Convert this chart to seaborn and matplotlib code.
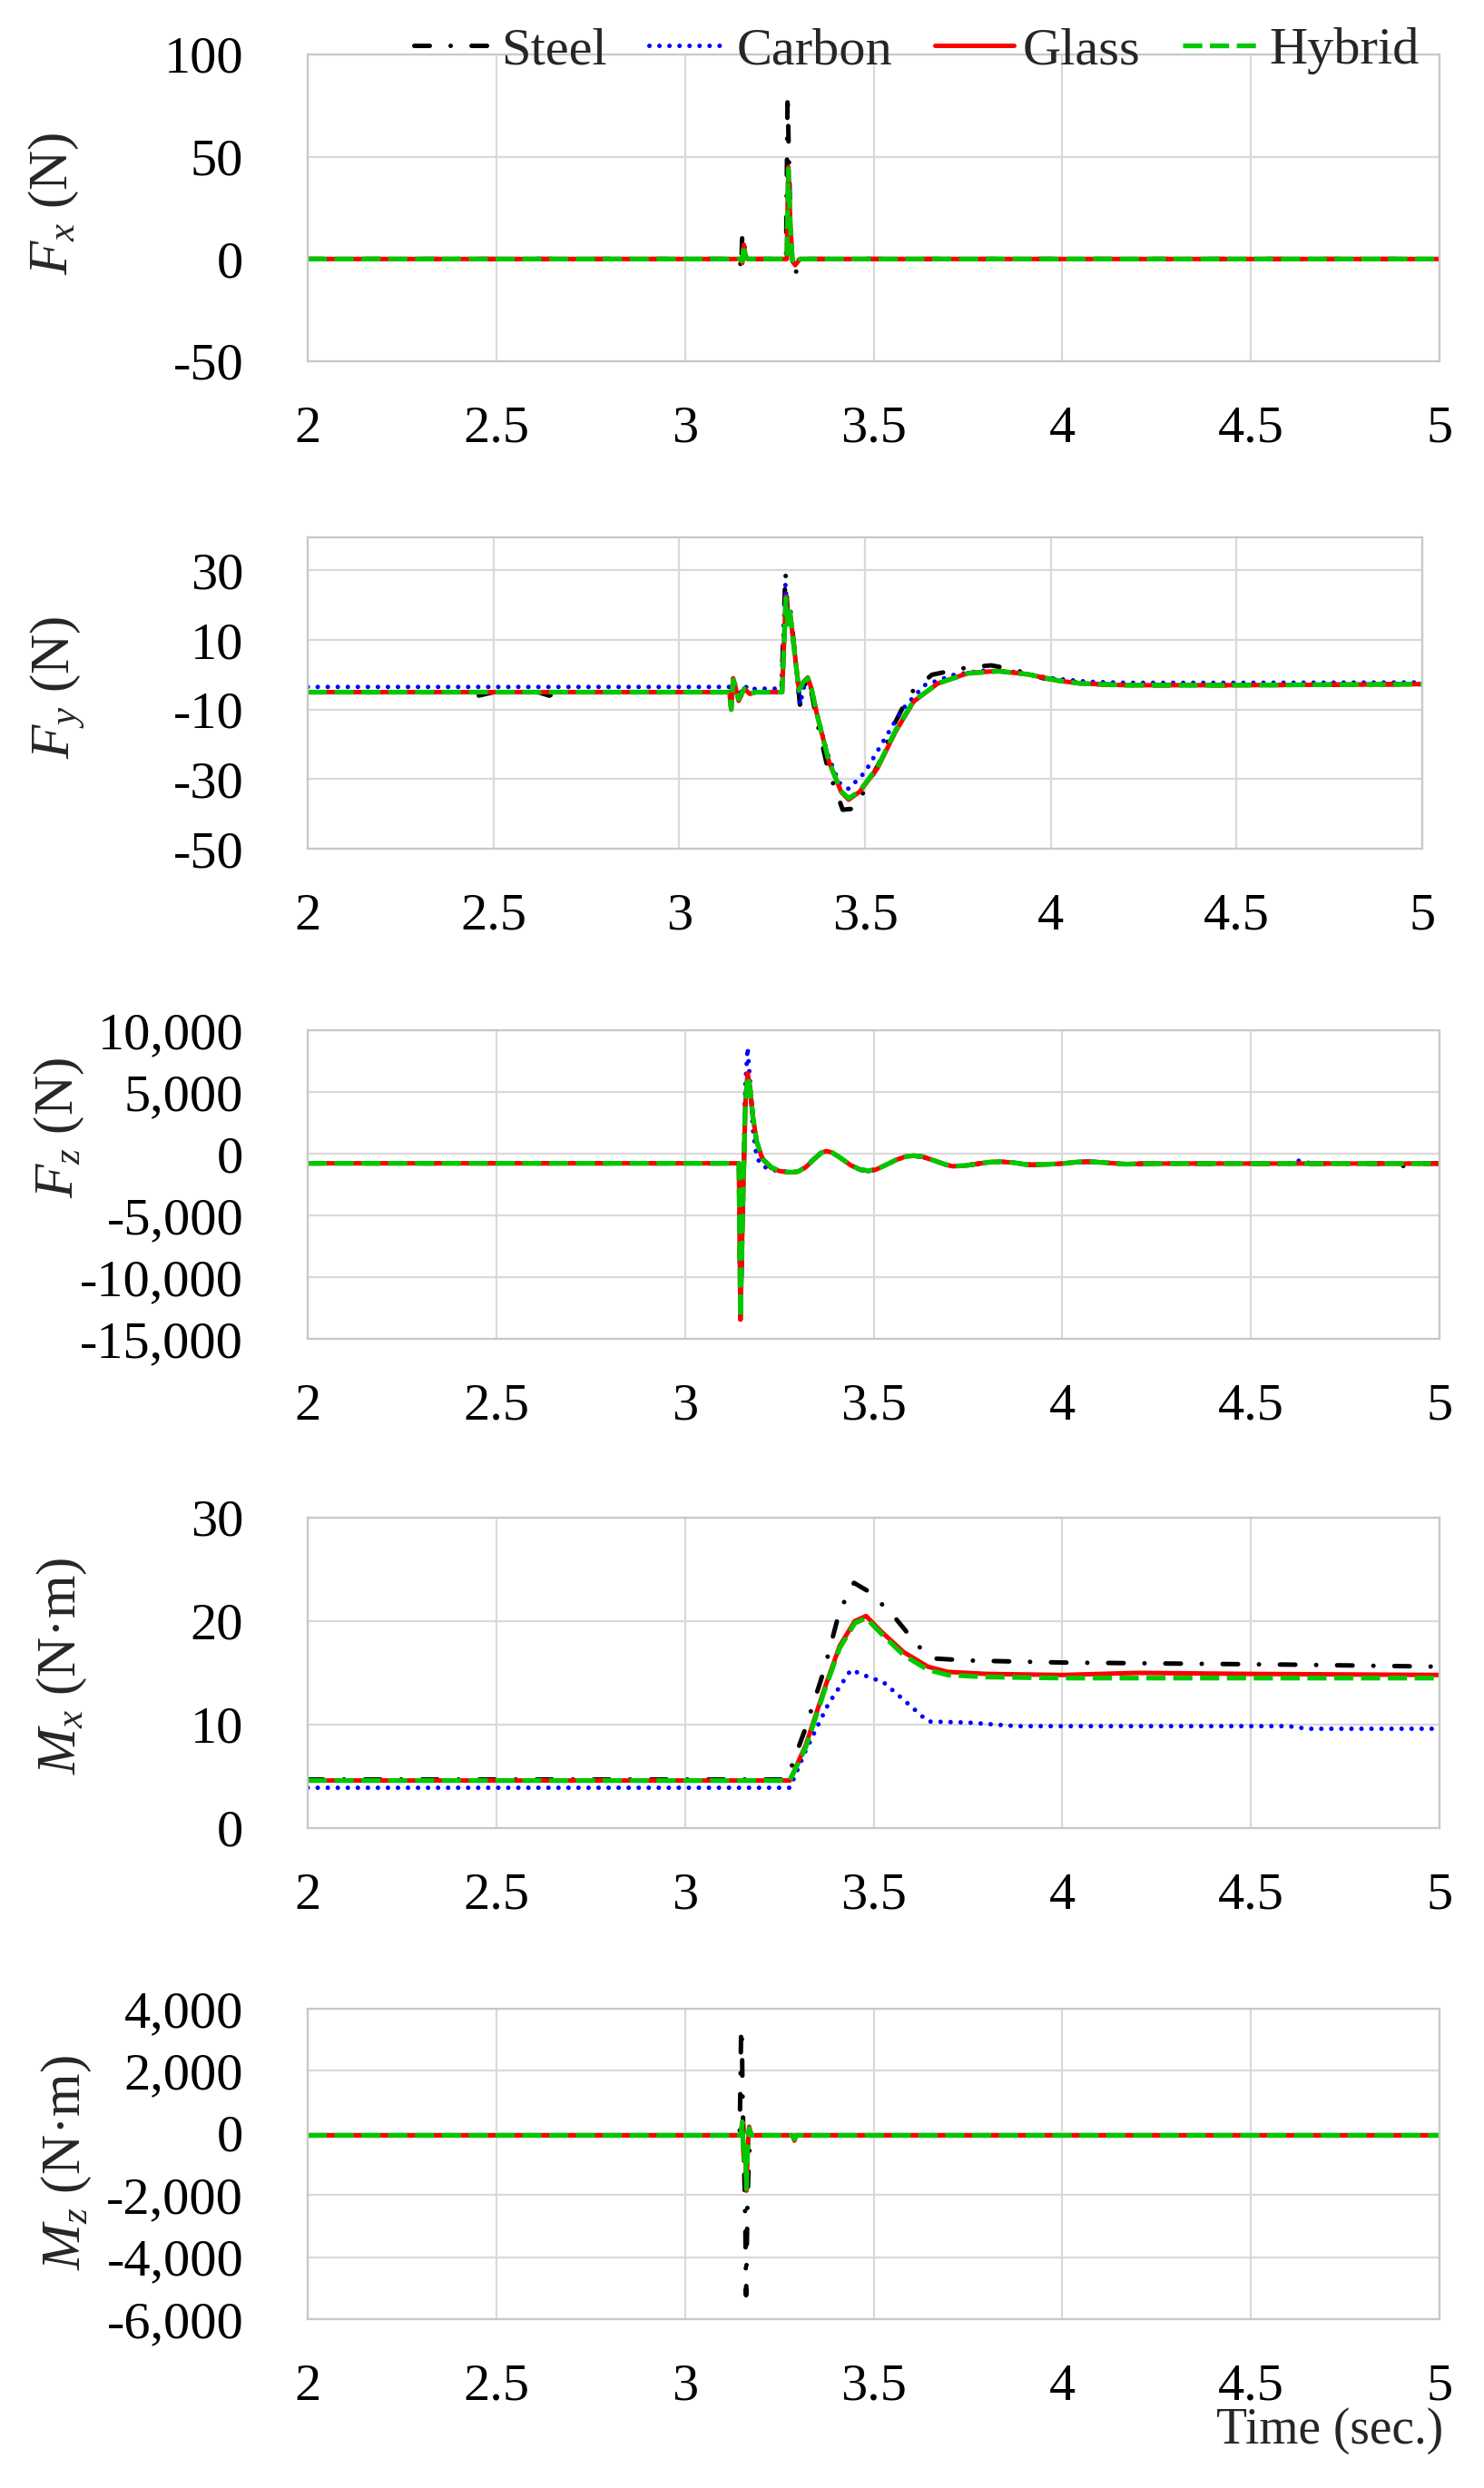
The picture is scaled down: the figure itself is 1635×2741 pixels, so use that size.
import matplotlib
matplotlib.use('Agg')
import matplotlib.pyplot as plt
import seaborn as sns
from matplotlib.ticker import FuncFormatter

# ---------------- data ----------------
materials = ['Steel', 'Carbon', 'Glass', 'Hybrid']
x_ticks = [2, 2.5, 3, 3.5, 4, 4.5, 5]

# Fx (N)
fx_steel_t = [2.0, 3.145, 3.149, 3.152, 3.156, 3.160, 3.166, 3.268, 3.272, 3.276, 3.281, 3.287, 3.296, 3.310, 5.0]
fx_steel = [0, 0, -5, 13, 11, 1, 0, 0, 81, 45, 5, -7, -6, 0, 0]
fx_carbon_t = [2.0, 3.148, 3.152, 3.156, 3.160, 3.166, 3.270, 3.274, 3.279, 3.285, 3.292, 3.305, 5.0]
fx_carbon = [0, 0, -2, 6, 1, 0, 0, 42, 16, -1, -3, 0, 0]
fx_glass_t = [2.0, 3.148, 3.152, 3.156, 3.160, 3.166, 3.270, 3.274, 3.279, 3.285, 3.292, 3.305, 5.0]
fx_glass = [0, 0, -2, 7, 1, 0, 0, 45, 18, -1, -3, 0, 0]
fx_hybrid_t = [2.0, 3.148, 3.152, 3.156, 3.160, 3.166, 3.270, 3.274, 3.279, 3.285, 3.292, 3.305, 5.0]
fx_hybrid = [0, 0, -1, 7, 2, 0, 0, 44, 17, -2, -2, 0, 0]

# Fy (N)
fy_steel_t = [2.0, 2.43, 2.46, 2.50, 2.62, 2.65, 2.68, 3.135, 3.140, 3.145, 3.150, 3.160, 3.175, 3.190, 3.205,
              3.275, 3.286, 3.292, 3.298, 3.325, 3.338, 3.346, 3.356, 3.370, 3.400, 3.440, 3.470, 3.500,
              3.540, 3.580, 3.620, 3.680, 3.780, 3.840, 3.900, 3.980, 4.100, 4.200, 4.500, 5.0]
fy_steel = [-5, -5, -6, -5, -5, -6, -5, -5, -10, -2, -3, -7.5, -4, -5.5, -5,
            -5, 29.5, 17, 20, -8.6, -3, -1, -5, -13, -27, -38.8, -38.5, -33,
            -25, -14, -5.5, 0, 2.2, 2.7, 1.5, -1, -2.6, -3.0, -3.0, -2.7]
fy_carbon_t = [2.0, 3.135, 3.140, 3.145, 3.150, 3.160, 3.175, 3.190, 3.205, 3.275, 3.286, 3.292, 3.298,
               3.325, 3.338, 3.346, 3.356, 3.370, 3.400, 3.430, 3.456, 3.500, 3.550, 3.600, 3.660,
               3.740, 3.820, 3.900, 4.000, 4.100, 4.200, 4.500, 5.0]
fy_carbon = [-3.5, -3.5, -9, -1.5, -2.5, -6.5, -3, -4.5, -4, -4, 26, 16, 19,
             -8.6, -2.5, -1, -4.5, -11, -23, -31, -32.8, -28, -19, -10, -3,
             0, 1.2, 0.8, -1, -2, -2.3, -2.3, -2.2]
fy_glass_t = [2.0, 3.135, 3.140, 3.145, 3.150, 3.160, 3.175, 3.190, 3.205, 3.277, 3.287, 3.292, 3.298,
              3.322, 3.335, 3.346, 3.356, 3.370, 3.403, 3.436, 3.456, 3.485, 3.534, 3.582, 3.631,
              3.696, 3.778, 3.859, 3.940, 4.020, 4.080, 4.200, 4.500, 5.0]
fy_glass = [-5, -5, -10, -1, -3, -7.5, -4, -5.5, -5, -5, 22.5, 15, 18,
            -4, -2, -0.8, -4, -11, -25, -33.7, -35.9, -33.7, -26.8, -16.4, -7.7,
            -2.5, 0.5, 1.1, 0.1, -1.7, -2.5, -3.0, -3.0, -2.7]
fy_hybrid_t = [2.0, 3.135, 3.140, 3.145, 3.150, 3.160, 3.175, 3.190, 3.205, 3.277, 3.287, 3.292, 3.298,
               3.322, 3.335, 3.346, 3.356, 3.370, 3.403, 3.436, 3.456, 3.485, 3.534, 3.582, 3.631,
               3.696, 3.778, 3.859, 3.940, 4.020, 4.080, 4.200, 4.500, 5.0]
fy_hybrid = [-5, -5, -10, -1.5, -3, -7, -4, -5.5, -5, -5, 22, 14.5, 18,
             -4.5, -2, -1, -4, -11, -25, -33.5, -35.5, -33.5, -26.5, -16, -7.5,
             -2.5, 0.4, 1.0, 0.1, -1.7, -2.5, -3.0, -3.0, -2.7]

# Fz (N)
fz_t = [2.0, 3.143, 3.147, 3.153, 3.160, 3.166, 3.172, 3.180, 3.190, 3.205, 3.229, 3.250, 3.270, 3.285,
        3.300, 3.320, 3.340, 3.360, 3.374, 3.390, 3.410, 3.440, 3.465, 3.486, 3.505, 3.530, 3.560,
        3.585, 3.606, 3.630, 3.660, 3.690, 3.710, 3.740, 3.780, 3.810, 3.838, 3.870, 3.900, 3.919,
        3.950, 4.000, 4.040, 4.070, 4.110, 4.170, 4.220, 4.400, 4.600, 4.630, 4.660, 4.850, 4.890,
        4.930, 5.0]
fz_steel = [-780, -780, -13430, -5000, 4000, 6400, 5400, 3000, 1000, -400, -1150, -1400, -1500, -1510,
            -1450, -1100, -500, 50, 210, 100, -300, -950, -1300, -1390, -1300, -950, -500,
            -230, -170, -250, -550, -880, -1020, -980, -800, -680, -650, -720, -860, -900,
            -880, -800, -680, -650, -720, -850, -800, -800, -800, -800, -800, -800, -1100,
            -800, -800]
fz_carbon = [-780, -780, -13000, -4000, 5500, 8600, 6000, 2000, -300, -1000, -1300, -1400, -1450, -1500,
             -1450, -1100, -500, 50, 200, 100, -300, -950, -1300, -1390, -1300, -950, -500,
             -230, -170, -250, -550, -880, -1020, -980, -800, -680, -650, -720, -860, -900,
             -880, -800, -680, -650, -720, -850, -800, -800, -800, -550, -800, -800, -800,
             -800, -800]
fz_glass = [-780, -780, -13430, -5000, 4000, 6520, 5500, 3000, 1000, -410, -1150, -1400, -1500, -1510,
            -1450, -1100, -500, 50, 210, 100, -300, -950, -1300, -1390, -1300, -950, -500,
            -230, -170, -250, -550, -880, -1020, -980, -800, -680, -650, -720, -860, -900,
            -880, -800, -680, -650, -720, -850, -800, -800, -800, -800, -800, -800, -800,
            -800, -800]
fz_hybrid = [-780, -780, -13300, -5000, 4000, 6300, 5400, 3000, 1000, -400, -1100, -1380, -1480, -1500,
             -1440, -1100, -500, 40, 200, 90, -300, -940, -1290, -1380, -1290, -950, -500,
             -230, -170, -250, -550, -870, -1000, -970, -800, -680, -650, -720, -860, -900,
             -880, -800, -680, -650, -720, -850, -800, -800, -800, -800, -800, -800, -800,
             -800, -800]

# Mx (N.m)
mx_steel_t = [2.0, 3.270, 3.317, 3.369, 3.410, 3.448, 3.490, 3.553, 3.618, 3.657, 3.750, 4.0, 4.3, 4.6, 5.0]
mx_steel = [4.7, 4.7, 9.4, 15.3, 21.0, 23.7, 22.8, 20.5, 17.6, 16.4, 16.2, 16.0, 15.9, 15.8, 15.6]
mx_carbon_t = [2.0, 3.278, 3.320, 3.380, 3.440, 3.480, 3.526, 3.592, 3.644, 3.750, 3.880, 4.600, 4.650, 5.0]
mx_carbon = [3.9, 3.9, 7.5, 12.0, 15.3, 14.7, 14.1, 12.0, 10.3, 10.2, 9.85, 9.85, 9.6, 9.6]
mx_glass_t = [2.0, 3.278, 3.320, 3.370, 3.410, 3.450, 3.480, 3.520, 3.580, 3.644, 3.696, 3.800, 4.0, 4.2, 4.5, 5.0]
mx_glass = [4.6, 4.6, 8.0, 13.5, 17.6, 20.0, 20.5, 19.0, 17.0, 15.6, 15.1, 14.9, 14.8, 15.0, 14.9, 14.8]
mx_hybrid_t = [2.0, 3.278, 3.320, 3.370, 3.410, 3.450, 3.480, 3.520, 3.580, 3.644, 3.696, 3.800, 4.0, 4.5, 5.0]
mx_hybrid = [4.6, 4.6, 7.8, 13.3, 17.4, 19.8, 20.3, 18.8, 16.7, 15.3, 14.8, 14.6, 14.5, 14.5, 14.5]

# Mz (N.m)
mz_steel_t = [2.0, 3.145, 3.149, 3.151, 3.153, 3.156, 3.160, 3.162, 3.166, 3.172, 3.180, 3.285, 3.290, 3.300, 5.0]
mz_steel = [-80, -80, 3390, 3000, 900, -500, -3000, -5230, -2000, -200, -80, -80, -180, -80, -80]
mz_carbon_t = [2.0, 3.148, 3.152, 3.156, 3.160, 3.163, 3.166, 3.170, 3.176, 3.285, 3.290, 3.295, 5.0]
mz_carbon = [-80, -80, 300, -800, -500, -1600, -600, 150, -80, -80, -220, -80, -80]
mz_glass_t = [2.0, 3.148, 3.152, 3.156, 3.160, 3.163, 3.166, 3.170, 3.176, 3.285, 3.290, 3.295, 5.0]
mz_glass = [-80, -80, 360, -900, -500, -1860, -600, 200, -80, -80, -250, -80, -80]
mz_hybrid_t = [2.0, 3.148, 3.152, 3.156, 3.160, 3.163, 3.166, 3.170, 3.176, 3.285, 3.290, 3.295, 5.0]
mz_hybrid = [-80, -80, 350, -850, -450, -1800, -550, 150, -80, -80, -200, -80, -80]

# ---------------- styling ----------------
sns.set_theme(style='whitegrid')
plt.rcParams['font.family'] = ['Liberation Serif', 'DejaVu Serif']
plt.rcParams['mathtext.fontset'] = 'custom'
plt.rcParams['mathtext.rm'] = 'Liberation Serif'
plt.rcParams['mathtext.it'] = 'Liberation Serif:italic'

W, H = 1635, 2741
FS = 42
grid_c = '#d9d9d9'

styles = {
    'Steel':  dict(color='black', lw=3.6, linestyle=(0, (3.4, 4.6, 0.01, 4.6)), dash_capstyle='round'),
    'Carbon': dict(color='#0000ff', lw=3.6, linestyle=(0, (0.01, 2.2)), dash_capstyle='round'),
    'Glass':  dict(color='#ff0000', lw=3.6, linestyle='-'),
    'Hybrid': dict(color='#00c800', lw=3.8, linestyle=(0, (4, 1.6)), dash_capstyle='butt'),
}

panels = [
    # (series per material, ylim, yticks, ylabel, axes box px (l, t, r, b), ylabel centre px)
    (dict(Steel=(fx_steel_t, fx_steel), Carbon=(fx_carbon_t, fx_carbon),
          Glass=(fx_glass_t, fx_glass), Hybrid=(fx_hybrid_t, fx_hybrid)),
     (-50, 100), [-50, 0, 50, 100], r'$F_x$ (N)', (339, 60, 1586, 398), (59, 224)),
    (dict(Steel=(fy_steel_t, fy_steel), Carbon=(fy_carbon_t, fy_carbon),
          Glass=(fy_glass_t, fy_glass), Hybrid=(fy_hybrid_t, fy_hybrid)),
     (-50, 39.5), [-50, -30, -10, 10, 30], r'$F_y$ (N)', (339, 592, 1567, 935), (64, 757)),
    (dict(Steel=(fz_t, fz_steel), Carbon=(fz_t, fz_carbon),
          Glass=(fz_t, fz_glass), Hybrid=(fz_t, fz_hybrid)),
     (-15000, 10000), [-15000, -10000, -5000, 0, 5000, 10000], r'$F_z$ (N)', (339, 1135, 1586, 1475), (65, 1242)),
    (dict(Steel=(mx_steel_t, mx_steel), Carbon=(mx_carbon_t, mx_carbon),
          Glass=(mx_glass_t, mx_glass), Hybrid=(mx_hybrid_t, mx_hybrid)),
     (0, 30), [0, 10, 20, 30], r'$M_x$ (N·m)', (339, 1672, 1586, 2014), (68, 1835)),
    (dict(Steel=(mz_steel_t, mz_steel), Carbon=(mz_carbon_t, mz_carbon),
          Glass=(mz_glass_t, mz_glass), Hybrid=(mz_hybrid_t, mz_hybrid)),
     (-6000, 4000), [-6000, -4000, -2000, 0, 2000, 4000], r'$M_z$ (N·m)', (339, 2213, 1586, 2555), (73, 2383)),
]

fig = plt.figure(figsize=(W / 100, H / 100), dpi=100)

handles = None
for series, ylim, yticks, ylabel, box, lab_pos in panels:
    l, t, r, b = box
    ax = fig.add_axes([l / W, 1 - b / H, (r - l) / W, (b - t) / H])
    for m in materials:
        xs, ys = series[m]
        sns.lineplot(x=xs, y=ys, ax=ax, estimator=None, sort=False, label=m, **styles[m])
    if handles is None:
        handles, labels = ax.get_legend_handles_labels()
    if ax.get_legend() is not None:
        ax.get_legend().remove()

    ax.set_xlim(2, 5)
    ax.set_ylim(*ylim)
    ax.set_xticks(x_ticks)
    ax.set_yticks(yticks)
    ax.xaxis.set_major_formatter(FuncFormatter(lambda v, p: f'{v:g}'))
    ax.yaxis.set_major_formatter(FuncFormatter(lambda v, p: f'{v:,.0f}'))
    ax.tick_params(axis='both', length=0, labelsize=FS, colors='black')
    ax.tick_params(axis='y', pad=51)
    ax.tick_params(axis='x', pad=35)
    ax.grid(True, color=grid_c, lw=1.6)
    for sp in ax.spines.values():
        sp.set_color('#c8c8c8')
        sp.set_linewidth(1.6)
    ax.set_xlabel('')
    ax.set_ylabel('')
    fig.text(lab_pos[0] / W, 1 - lab_pos[1] / H, ylabel, rotation=90, ha='center', va='center', fontsize=44)

fig.legend(handles, labels, loc='center', bbox_to_anchor=(1010 / W, 1 - 56 / H), ncol=4, frameon=False,
           fontsize=FS, handlelength=1.5, handletextpad=0.15, columnspacing=0.8, borderpad=0, borderaxespad=0)

fig.text(1590 / W, 1 - 2678 / H, 'Time (sec.)', ha='right', va='center', fontsize=40)

fig.savefig('out.png', dpi=100)
